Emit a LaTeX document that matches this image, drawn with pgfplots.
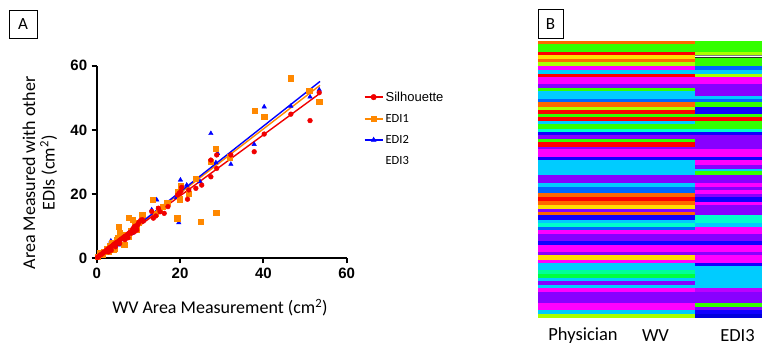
\documentclass[border=0pt]{standalone}
\usepackage{pgfplots}
\pgfplotsset{compat=1.18}
\usepackage{fontspec}
\setmainfont{Carlito}
\newfontfamily\arial{Liberation Sans}
\definecolor{cOr}{RGB}{255,102,0}
\definecolor{cGr}{RGB}{51,255,0}
\definecolor{cRe}{RGB}{255,0,0}
\definecolor{cYe}{RGB}{255,221,0}
\definecolor{cCh}{RGB}{170,255,0}
\definecolor{cMa}{RGB}{255,0,255}
\definecolor{cSk}{RGB}{0,204,255}
\definecolor{cAz}{RGB}{0,102,255}
\definecolor{cVi}{RGB}{136,0,255}
\definecolor{cBl}{RGB}{17,0,255}
\definecolor{cSp}{RGB}{0,255,204}
\definecolor{cSq}{RGB}{0,255,153}
\definecolor{cGq}{RGB}{0,255,64}
\definecolor{cPu}{RGB}{187,0,255}
\definecolor{cDb}{RGB}{0,0,220}
\definecolor{cGy}{RGB}{128,128,128}
\definecolor{cDk}{RGB}{40,40,40}
\definecolor{sRed}{RGB}{240,0,0}
\definecolor{sOr}{RGB}{255,136,0}
\definecolor{sBl}{RGB}{0,0,255}
\newcommand{\Ls}[2]{\addplot[draw=none,fill=#1] coordinates {(538,#2)(695,#2)(695,318)(538,318)};}
\newcommand{\Rs}[2]{\addplot[draw=none,fill=#1] coordinates {(695,#2)(762,#2)(762,318)(695,318)};}
\begin{document}
\begin{tikzpicture}
\path[use as bounding box] (0,0) rectangle (762pt,347pt);
% panel labels
\draw[line width=0.8pt] (9pt,337pt) rectangle (37pt,308.7pt);
\node[font=\fontsize{17}{17}\selectfont] at (23pt,322.5pt) {A};
\draw[line width=0.8pt] (538pt,338pt) rectangle (563pt,308.3pt);
\node[font=\fontsize{17}{17}\selectfont] at (550.5pt,323pt) {B};
% Panel A
\begin{axis}[
  at={(96.7pt,88.7pt)}, anchor=south west,
  scale only axis, width=250pt, height=192.6pt,
  xmin=0, xmax=60, ymin=0, ymax=60,
  axis x line=bottom, axis y line=left,
  axis line style={-, line width=2pt},
  xtick={0,20,40,60}, ytick={0,20,40,60},
  tick align=outside, major tick length=5pt,
  tick style={line width=2pt, black},
  /pgf/number format/assume math mode=true,
  ticklabel style={font=\fontsize{15}{15}\selectfont\arial\bfseries},
  xticklabel style={yshift=-1pt},
  yticklabel style={xshift=-1pt},
  clip=false,
  xlabel={WV Area Measurement (cm\textsuperscript{2})},
  xlabel style={font=\fontsize{18}{18}\selectfont, at={(axis description cs:0.493,-0.258)}, anchor=center},
  ylabel={Area Measured with other\\EDIs (cm\textsuperscript{2})},
  ylabel style={font=\fontsize{18}{19.5}\selectfont, align=center, at={(axis description cs:-0.227,0.443)}, anchor=center},
  legend style={draw=none, fill=none, at={(axis description cs:1.055,0.887)}, anchor=north west,
    font=\fontsize{12.5}{12.5}\selectfont, row sep=7.5pt, legend cell align=left},
  legend image code/.code={\draw[#1, line width=2pt] (0pt,0pt) -- (18pt,0pt);
     \draw[#1, only marks] plot coordinates {(9pt,0pt)};},
  legend cell align=left,
]
\addlegendimage{sRed, mark=*, mark size=2.8pt}
\addlegendentry{\arial\fontsize{13}{13}\selectfont Silhouette}
\addlegendimage{sOr, mark=square*, mark size=2.8pt}
\addlegendentry{EDI1}
\addlegendimage{sBl, mark=triangle*, mark size=2.8pt}
\addlegendentry{EDI2}
\addlegendimage{empty legend}
\addlegendentry{EDI3}
% EDI2 (blue triangles)
\addplot[only marks, mark=triangle*, mark size=2.6pt, sBl] coordinates {
(0.4,0.5)(1.2,1.4)(2.0,2.3)(2.8,3.2)(3.4,5.4)(4.2,4.0)(5.2,4.2)(6.0,6.4)(7.0,7.2)(8.4,7.8)(9.0,9.4)(10.2,10.6)(11.2,11.9)(13.2,15.1)(14.4,14.5)(14.4,18.2)(16.8,17.3)(19.7,11.1)(19.2,19.0)(20.1,24.4)(21.6,22.8)(24.8,23.9)(27.4,38.9)(28.6,29.8)(29.0,32.7)(32.2,29.3)(37.8,35.5)(40.2,47.2)(46.6,47.4)(51.2,50.3)(53.4,52.5)
};
% EDI1 (orange squares)
\addplot[only marks, mark=square*, mark size=2.6pt, sOr] coordinates {
(0.3,0.5)(0.8,1.6)(1.3,1.2)(1.8,2.1)(2.4,3.1)(2.8,2.2)(3.2,3.8)(3.6,4.7)(4.0,2.8)(4.4,3.1)(4.8,5.7)(5.2,9.9)(5.6,7.8)(5.0,6.5)(6.0,6.3)(6.6,4.2)(7.0,7.3)(7.6,6.7)(7.7,12.7)(8.2,8.6)(8.6,11.9)(9.2,10.2)(9.6,8.8)(10.0,11.0)(10.9,13.7)(13.4,18.2)(14.2,14.0)(15.0,15.5)(15.8,16.1)(16.9,17.3)(19.3,12.5)(19.4,20.7)(20.0,18.4)(20.2,22.6)(22.1,20.2)(23.8,24.7)(25.0,11.5)(27.4,30.2)(28.6,34.2)(28.7,14.3)(32.0,31.5)(37.9,46.1)(40.2,44.1)(46.6,56.1)(51.0,52.2)(53.4,48.8)
};
% Silhouette (red circles)
\addplot[only marks, mark=*, mark size=2.4pt, sRed] coordinates {
(0.2,0.3)(0.5,0.6)(0.8,1.0)(1.1,1.2)(1.4,1.5)(1.6,1.8)(1.9,2.0)(2.2,2.3)(2.4,2.6)(2.7,2.9)(3.0,3.1)(3.2,3.4)(3.5,3.6)(3.8,3.9)(4.0,4.2)(4.3,4.5)(4.6,4.8)(4.9,5.0)(5.3,5.4)(5.6,5.7)(5.9,6.0)(6.2,6.2)(6.5,6.6)(6.8,6.9)(7.1,7.0)(7.4,7.4)(7.7,7.8)(8.0,8.1)(8.3,7.8)(8.6,9.0)(8.9,9.6)(9.2,10.0)(9.5,9.4)(9.8,10.4)(10.2,11.3)(10.6,11.9)(11.0,12.0)(2.8,2.0)(3.5,2.5)(4.5,3.6)(5.5,4.6)(6.8,5.8)(7.5,6.4)(9.0,8.2)(9.6,8.8)(10.0,10.9)(11.2,11.6)(13.2,14.6)(13.6,12.5)(14.2,13.2)(14.8,15.6)(15.2,14.5)(16.2,14.0)(17.1,16.1)(19.4,19.7)(19.8,20.3)(20.2,20.9)(20.4,22.1)(21.8,18.4)(22.1,21.3)(23.8,21.8)(25.2,22.8)(27.4,30.6)(27.4,25.4)(28.8,32.2)(28.8,28.0)(32.2,32.2)(37.8,33.2)(40.2,38.7)(46.6,44.9)(51.2,42.9)(53.4,51.6)
};
% fitted lines
\addplot[sOr, line width=1.4pt] coordinates {(0,0.3)(53.6,53.9)};
\addplot[sBl, line width=1.4pt] coordinates {(0,0.2)(53.6,55.1)};
\addplot[sRed, line width=1.4pt] coordinates {(0,0.4)(53.6,51.4)};
\end{axis}
% Panel B
\begin{axis}[
  at={(538pt,29pt)}, anchor=south west,
  scale only axis, width=224pt, height=277pt,
  xmin=538, xmax=762, ymin=41, ymax=318, y dir=reverse,
  hide axis,
]
\Ls{cOr}{41}
\Ls{cGr}{44}
\Ls{cRe}{51.7}
\Ls{cYe}{55.3}
\Ls{cOr}{58.7}
\Ls{cCh}{62.3}
\Ls{cMa}{66}
\Ls{cSk}{70}
\Ls{cRe}{73.7}
\Ls{cMa}{77.3}
\Ls{cVi}{84.3}
\Ls{cGr}{88.3}
\Ls{cSk}{91.3}
\Ls{cAz}{99}
\Ls{cOr}{102.3}
\Ls{cCh}{106.7}
\Ls{cRe}{110.3}
\Ls{cGr}{114}
\Ls{cRe}{117.3}
\Ls{cSk}{120.7}
\Ls{cGr}{124}
\Ls{cSp}{129}
\Ls{cBl}{132.3}
\Ls{cVi}{135.3}
\Ls{cGr}{138.7}
\Ls{cRe}{142}
\Ls{cVi}{147}
\Ls{cMa}{149.3}
\Ls{cBl}{157}
\Ls{cSk}{160.3}
\Ls{cVi}{175.3}
\Ls{cSk}{183.3}
\Ls{cAz}{186.7}
\Ls{cOr}{193.3}
\Ls{cRe}{197.3}
\Ls{cOr}{201.3}
\Ls{cYe}{205}
\Ls{cVi}{208.7}
\Ls{cOr}{212}
\Ls{cBl}{215.3}
\Ls{cSk}{220}
\Ls{cSp}{223.3}
\Ls{cAz}{226.7}
\Ls{cMa}{230}
\Ls{cVi}{234}
\Ls{cBl}{241.3}
\Ls{cMa}{244.7}
\Ls{cVi}{252}
\Ls{cYe}{255.3}
\Ls{cMa}{259.7}
\Ls{cSk}{263}
\Ls{cSq}{269.7}
\Ls{cGq}{273.7}
\Ls{cSk}{277.7}
\Ls{cVi}{281}
\Ls{cSk}{285}
\Ls{cMa}{288.3}
\Ls{cVi}{291.7}
\Ls{cMa}{302.7}
\Ls{cSk}{310}
\Ls{cCh}{314}
%
\Rs{cGr}{41}
\Rs{cCh}{52}
\Rs{cGy}{55.3}
\Rs{white}{56.3}
\Rs{cDk}{57.3}
\Rs{cGr}{58.5}
\Rs{cAz}{66}
\Rs{cSk}{70}
\Rs{cCh}{73.7}
\Rs{cMa}{77.3}
\Rs{cVi}{84.3}
\Rs{cSk}{95.7}
\Rs{cAz}{99}
\Rs{cGr}{102.3}
\Rs{cBl}{106.7}
\Rs{cGr}{114}
\Rs{cRe}{117.3}
\Rs{cGr}{120.7}
\Rs{cSp}{129}
\Rs{cBl}{132.3}
\Rs{cVi}{135.3}
\Rs{cMa}{149.3}
\Rs{cBl}{157}
\Rs{cMa}{160.3}
\Rs{cVi}{165.3}
\Rs{cSk}{168.7}
\Rs{cGr}{171.3}
\Rs{cVi}{174.7}
\Rs{cMa}{183.3}
\Rs{cVi}{187.3}
\Rs{cMa}{190}
\Rs{cVi}{194}
\Rs{cBl}{197.3}
\Rs{cMa}{201.7}
\Rs{cVi}{205}
\Rs{cSp}{215}
\Rs{cSk}{223.3}
\Rs{cMa}{226.7}
\Rs{cVi}{234}
\Rs{cBl}{241.3}
\Rs{cMa}{244.7}
\Rs{cVi}{252}
\Rs{cMa}{255.3}
\Rs{cBl}{263}
\Rs{cSk}{266.3}
\Rs{cPu}{288.3}
\Rs{cVi}{291.7}
\Rs{cGr}{302.7}
\Rs{cVi}{306.7}
\Rs{cBl}{310.3}
\Rs{cDb}{314}
\end{axis}
\node[font=\fontsize{18.5}{18.5}\selectfont] at (583pt,11.5pt) {Physician};
\node[font=\fontsize{18.5}{18.5}\selectfont] at (655.5pt,11.5pt) {WV};
\node[font=\fontsize{18.5}{18.5}\selectfont] at (737.5pt,11.5pt) {EDI3};
\end{tikzpicture}
\end{document}
